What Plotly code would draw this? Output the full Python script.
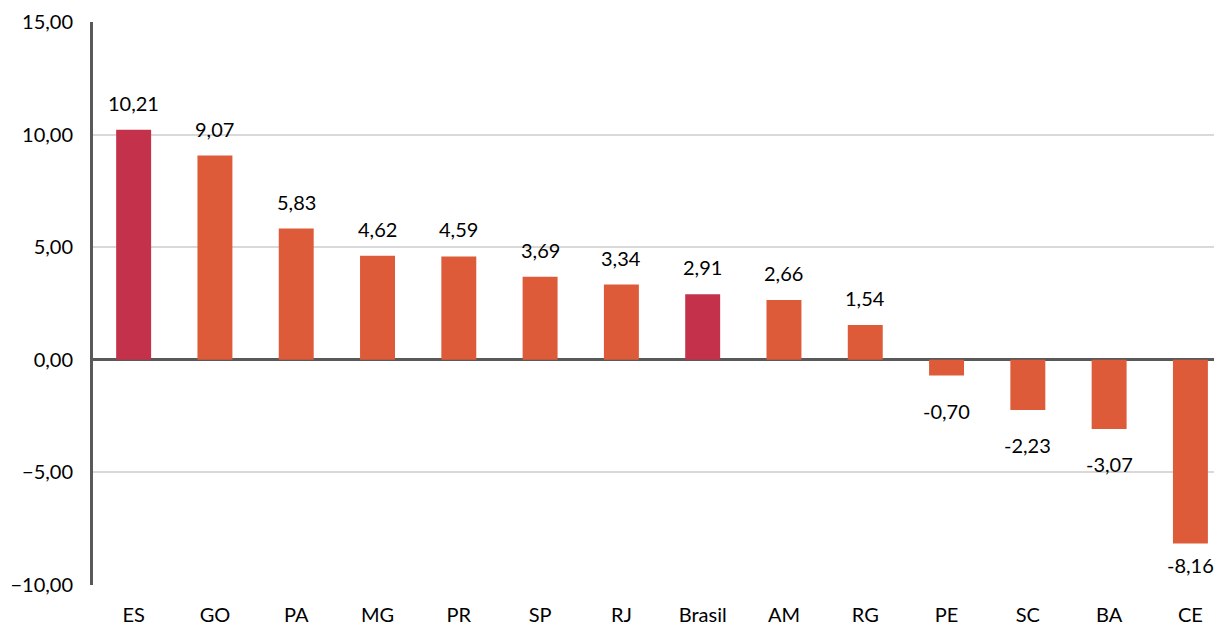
import plotly.graph_objects as go

# Variação por estado (%)
states = ["ES", "GO", "PA", "MG", "PR", "SP", "RJ", "Brasil", "AM", "RG", "PE", "SC", "BA", "CE"]
values = [10.21, 9.07, 5.83, 4.62, 4.59, 3.69, 3.34, 2.91, 2.66, 1.54, -0.70, -2.23, -3.07, -8.16]
highlight = ["ES", "Brasil"]

CRIMSON = "#C3324A"
ORANGE = "#DE5B3A"
colors = [CRIMSON if s in highlight else ORANGE for s in states]

FONT = "Lato, 'Open Sans', sans-serif"
Y_MIN, Y_MAX = -10, 15
PLOT_H = 628 - 22 - 43
PX_PER_UNIT = PLOT_H / (Y_MAX - Y_MIN)

fig = go.Figure(
    go.Bar(
        x=states,
        y=values,
        marker=dict(color=colors, line=dict(width=0)),
        width=0.43,
        hoverinfo="x+y",
    )
)


def fmt(v):
    return f"{v:.2f}".replace(".", ",")


# value labels above positive bars and below negative ones
for s, v in zip(states, values):
    if v >= 0:
        shift = 27
    else:
        room = (v - Y_MIN) * PX_PER_UNIT - 20
        shift = -min(35, room)
    fig.add_annotation(
        x=s, y=v, text=fmt(v), showarrow=False,
        yanchor="middle", yshift=shift,
        font=dict(family=FONT, size=20, color="#000000"),
    )

fig.update_layout(
    width=1214,
    height=628,
    margin=dict(l=93, r=0, t=22, b=43),
    paper_bgcolor="white",
    plot_bgcolor="white",
    separators=",.",
    showlegend=False,
    font=dict(family=FONT, size=20, color="#000000"),
    xaxis=dict(
        range=[-0.5, 13.29],
        showgrid=False,
        showline=False,
        ticks="",
        tickfont=dict(family=FONT, size=20, color="#000000"),
        ticklabelstandoff=16,
    ),
    yaxis=dict(
        range=[Y_MIN, Y_MAX],
        tickvals=[-10, -5, 0, 5, 10, 15],
        tickformat=".2f",
        showgrid=True,
        gridcolor="#D9D9D9",
        gridwidth=2,
        zeroline=True,
        zerolinecolor="#595959",
        zerolinewidth=2.5,
        showline=True,
        linecolor="#595959",
        linewidth=3,
        ticks="",
        ticklabelstandoff=13,
        tickfont=dict(family=FONT, size=20, color="#000000"),
    ),
)

fig.write_html("out.html")
